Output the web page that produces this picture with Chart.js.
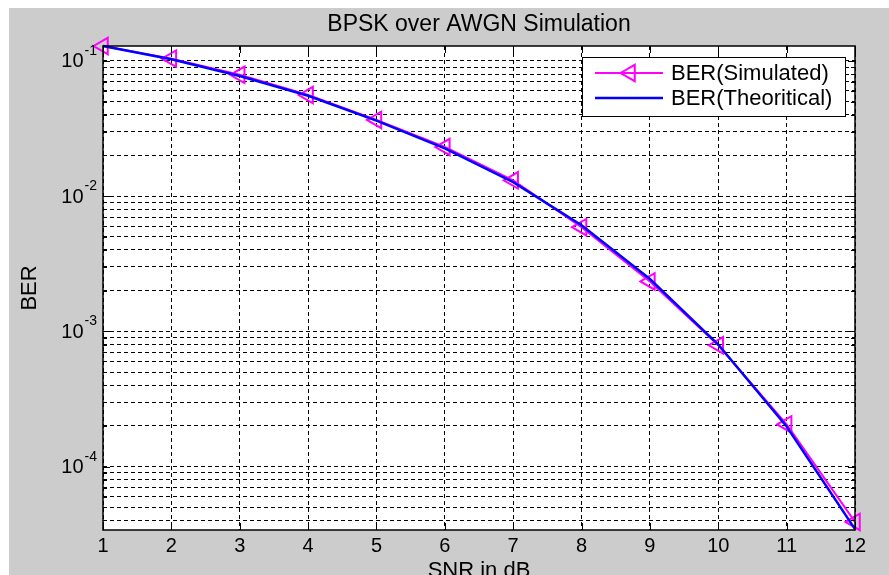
<!DOCTYPE html>
<html>
<head>
<meta charset="utf-8">
<script src="https://cdn.jsdelivr.net/npm/chart.js@4.4.0/dist/chart.umd.min.js"></script>
<style>
  html, body { margin: 0; padding: 0; overflow: hidden; background: #fff; }
  #wrap { width: 889px; height: 590px; }
</style>
</head>
<body>
<div id="wrap"><canvas id="berChart"></canvas></div>
<script>
// values
const snrDb = [1, 2, 3, 4, 5, 6, 7, 8, 9, 10, 11, 12];
const berSimulated = [0.129, 0.104, 0.079, 0.056, 0.0366, 0.0231, 0.0131, 0.0059, 0.00234, 0.00079, 0.000205, 0.000039];
const berTheoretical = [0.129, 0.103, 0.0775, 0.0553, 0.0362, 0.0226, 0.0127, 0.0061, 0.00244, 0.0008, 0.000198, 0.0000345];
const decadeTicks = [1e-1, 1e-2, 1e-3, 1e-4];
const decadeLabels = ['-1', '-2', '-3', '-4'];
const yMin = 3.4e-5;
const yMax = 0.129;
const chartTitle = 'BPSK over AWGN Simulation';

const FONT = "'Liberation Sans', Arial, sans-serif";
Chart.defaults.font.family = FONT;
Chart.defaults.color = '#000';

const toPoints = arr => arr.map((v, i) => ({ x: snrDb[i], y: v }));

// gray figure + white axes background
const backgroundPlugin = {
  id: 'matlabBg',
  beforeDraw(chart) {
    const { ctx, width, height, chartArea: a } = chart;
    ctx.save();
    ctx.fillStyle = '#fff';
    ctx.fillRect(0, 0, width, height);
    ctx.fillStyle = '#cccccc';
    ctx.fillRect(9, 8, width - 9, height - 8);
    ctx.fillStyle = '#fff';
    ctx.fillRect(a.left, a.top, a.right - a.left, a.bottom - a.top);
    ctx.restore();
  }
};

// box, inner tick marks, title, 10^n labels and the legend
const framePlugin = {
  id: 'matlabFrame',
  afterDraw(chart) {
    const { ctx, chartArea: a, scales } = chart;
    const xs = scales.x, ys = scales.y;
    ctx.save();
    ctx.strokeStyle = '#000';
    ctx.lineWidth = 1;
    ctx.setLineDash([]);

    // tick marks
    ctx.beginPath();
    xs.ticks.forEach(t => {
      const px = Math.round(xs.getPixelForValue(t.value)) + 0.5;
      ctx.moveTo(px, a.bottom); ctx.lineTo(px, a.bottom - 7);
      ctx.moveTo(px, a.top); ctx.lineTo(px, a.top + 7);
    });
    ys.ticks.forEach(t => {
      const py = Math.round(ys.getPixelForValue(t.value)) + 0.5;
      const len = decadeTicks.includes(t.value) ? 7 : 4;
      ctx.moveTo(a.left, py); ctx.lineTo(a.left + len, py);
      ctx.moveTo(a.right, py); ctx.lineTo(a.right - len, py);
    });
    ctx.stroke();

    ctx.lineWidth = 1.5;
    ctx.strokeRect(a.left, a.top, a.right - a.left, a.bottom - a.top);

    // title centred over the axes
    ctx.fillStyle = '#000';
    ctx.font = '23px ' + FONT;
    ctx.textAlign = 'center';
    ctx.textBaseline = 'middle';
    ctx.fillText(chartTitle, (a.left + a.right) / 2, 25);

    // y labels with superscript exponent
    decadeTicks.forEach((v, i) => {
      const py = ys.getPixelForValue(v);
      ctx.font = '14px ' + FONT;
      ctx.textAlign = 'right';
      const supW = ctx.measureText(decadeLabels[i]).width;
      ctx.fillText(decadeLabels[i], a.left - 6, py - 10);
      ctx.font = '20px ' + FONT;
      ctx.fillText('10', a.left - 7 - supW, py + 1);
    });

    // legend
    const lx = 582, ly = 57, lw = 263, lh = 59;
    ctx.fillStyle = '#fff';
    ctx.fillRect(lx, ly, lw, lh);
    ctx.lineWidth = 1;
    ctx.strokeStyle = '#000';
    ctx.strokeRect(lx + 0.5, ly + 0.5, lw, lh);
    const rows = [73, 98];
    chart.data.datasets.forEach((ds, i) => {
      const y = rows[i];
      ctx.strokeStyle = ds.borderColor;
      ctx.lineWidth = ds.borderWidth;
      ctx.beginPath();
      ctx.moveTo(595, y); ctx.lineTo(663, y);
      ctx.stroke();
      if (ds.pointRadius > 0) {
        ctx.fillStyle = 'rgba(0,0,0,0)';
        ctx.lineWidth = ds.pointBorderWidth;
        Chart.helpers.drawPoint(ctx, {
          pointStyle: ds.pointStyle, rotation: ds.pointRotation,
          radius: ds.pointRadius, borderWidth: ds.pointBorderWidth
        }, 630, y);
      }
      ctx.fillStyle = '#000';
      ctx.font = '22px ' + FONT;
      ctx.textAlign = 'left';
      ctx.textBaseline = 'middle';
      ctx.fillText(ds.label, 671, y + 1);
    });
    ctx.restore();
  }
};

new Chart(document.getElementById('berChart'), {
  type: 'line',
  data: {
    datasets: [
      {
        label: 'BER(Simulated)',
        data: toPoints(berSimulated),
        borderColor: '#ff00ff',
        borderWidth: 2,
        pointStyle: 'triangle',
        pointRotation: -90,
        pointRadius: 9.5,
        pointBorderWidth: 2,
        pointBorderColor: '#ff00ff',
        pointBackgroundColor: 'rgba(0,0,0,0)',
        tension: 0,
        clip: false,
        order: 1
      },
      {
        label: 'BER(Theoritical)',
        data: toPoints(berTheoretical),
        borderColor: '#0000ff',
        borderWidth: 2.5,
        pointRadius: 0,
        tension: 0,
        clip: false,
        order: 0
      }
    ]
  },
  options: {
    responsive: true,
    maintainAspectRatio: false,
    animation: false,
    layout: { padding: { top: 46, right: 34, bottom: 0, left: 0 } },
    scales: {
      x: {
        type: 'linear',
        min: 1,
        max: 12,
        ticks: { stepSize: 1, padding: 4, font: { size: 20 }, color: '#000' },
        grid: { color: '#000', lineWidth: 1, drawTicks: false },
        border: { display: false, dash: [4, 3] },
        title: { display: true, text: 'SNR in dB', font: { size: 22 }, color: '#000', padding: { top: 0, bottom: 6 } },
        afterFit: s => { s.height = 60; }
      },
      y: {
        type: 'logarithmic',
        min: yMin,
        max: yMax,
        ticks: { display: false },
        grid: { color: '#000', lineWidth: 1, drawTicks: false },
        border: { display: false, dash: [4, 3] },
        title: { display: true, text: 'BER', font: { size: 22 }, color: '#000', padding: { top: 17, bottom: 0 } },
        afterBuildTicks: s => {
          const ticks = [];
          for (let e = -5; e <= -1; e++) {
            for (let m = 1; m <= 9; m++) {
              const v = m * Math.pow(10, e);
              if (v >= yMin && v <= yMax) ticks.push({ value: v });
            }
          }
          s.ticks = ticks;
        },
        afterFit: s => { s.width = 103; }
      }
    },
    plugins: {
      legend: { display: false },
      tooltip: { enabled: false },
      title: { display: false }
    }
  },
  plugins: [backgroundPlugin, framePlugin]
});
</script>
</body>
</html>
